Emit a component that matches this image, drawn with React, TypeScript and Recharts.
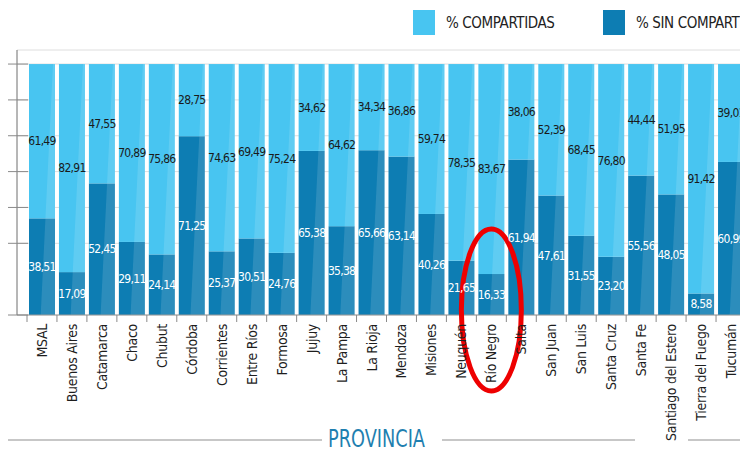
import { BarChart, Bar, XAxis, YAxis, CartesianGrid, LabelList, ReferenceDot } from 'recharts';

const provincias = [
  'MSAL', 'Buenos Aires', 'Catamarca', 'Chaco', 'Chubut', 'Córdoba', 'Corrientes', 'Entre Ríos',
  'Formosa', 'Jujuy', 'La Pampa', 'La Rioja', 'Mendoza', 'Misiones', 'Neuquén', 'Río Negro',
  'Salta', 'San Juan', 'San Luis', 'Santa Cruz', 'Santa Fe', 'Santiago del Estero',
  'Tierra del Fuego', 'Tucumán',
];
const sinCompartir = [
  38.51, 17.09, 52.45, 29.11, 24.14, 71.25, 25.37, 30.51, 24.76, 65.38, 35.38, 65.66,
  63.14, 40.26, 21.65, 16.33, 61.94, 47.61, 31.55, 23.2, 55.56, 48.05, 8.58, 60.99,
];
const compartidas = [
  61.49, 82.91, 47.55, 70.89, 75.86, 28.75, 74.63, 69.49, 75.24, 34.62, 64.62, 34.34,
  36.86, 59.74, 78.35, 83.67, 38.06, 52.39, 68.45, 76.8, 44.44, 51.95, 91.42, 39.01,
];
const yTicks = [0, 28.57, 42.86, 57.14, 71.43, 85.71, 100];
const destacada = 'Río Negro';

const LIGHT = '#48c5f1';
const DARK = '#0d7db3';
const FONT = '"DejaVu Sans Condensed", "Liberation Sans Narrow", "Open Sans", sans-serif';

const W = 760;
const H = 449;
const X_AXIS_H = 30;
const M = { top: 50, right: 14, left: 0, bottom: 134 - X_AXIS_H };
const Y_AXIS_W = 17;
const PAD_LEFT = 10;
const PLOT_BOTTOM = 315;
const PLOT_TOP = M.top;
const BAND = (W - M.left - M.right - Y_AXIS_W - PAD_LEFT) / provincias.length;

const data = provincias.map((p, i) => ({ p, sin: sinCompartir[i], comp: compartidas[i] }));

const fmt = (v: number) => v.toFixed(2).replace('.', ',');

// bar with a faint diagonal sheen on the right side
function SheenBar(props: any) {
  const { x, y, width, height, fill } = props;
  if (!height) return null;
  const sx = (yy: number) => {
    const t = (yy - PLOT_TOP) / (PLOT_BOTTOM - PLOT_TOP);
    return x + width * (0.95 - 0.5 * t);
  };
  const pts = `${sx(y)},${y} ${x + width},${y} ${x + width},${y + height} ${sx(y + height)},${y + height}`;
  return (
    <g>
      <rect x={x} y={y} width={width} height={height} fill={fill} />
      <polygon points={pts} fill="#ffffff" fillOpacity={0.13} />
    </g>
  );
}

function XTick(props: any) {
  const { payload } = props;
  const cx = payload.coordinate;
  return (
    <g>
      <line x1={cx - BAND / 2} x2={cx - BAND / 2} y1={PLOT_BOTTOM} y2={PLOT_BOTTOM + 7} stroke="#8a8a8a" />
      <text
        x={cx}
        y={PLOT_BOTTOM + 9}
        transform={`rotate(-90, ${cx}, ${PLOT_BOTTOM + 9})`}
        textAnchor="end"
        dominantBaseline="central"
        fontSize={14}
        letterSpacing={-0.3}
        fontFamily={FONT}
        fill="#1e1e1e"
      >
        {payload.value}
      </text>
    </g>
  );
}

function YTick(props: any) {
  const { y } = props;
  return <line x1={8} x2={28} y1={y} y2={y} stroke="#8a8a8a" />;
}

function LegendBox() {
  const item = (color: string, label: string, width: number) => (
    <div style={{ display: 'flex', alignItems: 'center', width }}>
      <div style={{ width: 22, height: 25, background: color, marginRight: 11 }} />
      <span style={{ fontFamily: FONT, fontSize: 15, letterSpacing: -0.4, color: '#222', whiteSpace: 'nowrap' }}>{label}</span>
    </div>
  );
  return (
    <div style={{ position: 'absolute', left: 413, top: 10, display: 'flex' }}>
      {item(LIGHT, '% COMPARTIDAS', 190)}
      {item(DARK, '% SIN COMPARTIR', 200)}
    </div>
  );
}

export default function App() {
  return (
    <div style={{ position: 'absolute', left: 0, top: 0, width: 740, height: H, overflow: 'hidden', background: '#fff' }}>
      <BarChart width={W} height={H} data={data} margin={M}>
        <CartesianGrid horizontal vertical={false} stroke="#dedede" />
        <XAxis
          dataKey="p"
          height={X_AXIS_H}
          interval={0}
          padding={{ left: PAD_LEFT, right: 0 }}
          tick={<XTick />}
          tickLine={false}
          axisLine={{ stroke: '#9a9a9a' }}
        />
        <YAxis
          width={Y_AXIS_W}
          domain={[0, 105.6]}
          ticks={yTicks}
          tick={<YTick />}
          tickLine={false}
          axisLine={{ stroke: '#6f6f6f' }}
        />
        <Bar dataKey="sin" stackId="a" fill={DARK} barSize={26} shape={<SheenBar />} isAnimationActive={false}>
          <LabelList dataKey="sin" position="center" formatter={(v: any) => fmt(v)} fill="#ffffff" fontSize={12} letterSpacing={-0.7} fontFamily={FONT} />
        </Bar>
        <Bar dataKey="comp" stackId="a" fill={LIGHT} barSize={26} shape={<SheenBar />} isAnimationActive={false}>
          <LabelList dataKey="comp" position="center" formatter={(v: any) => fmt(v)} fill="#1a1a1a" fontSize={12} letterSpacing={-0.7} fontFamily={FONT} />
        </Bar>
        <ReferenceDot
          x={destacada}
          y={2}
          ifOverflow="visible"
          shape={(p: any) => (
            <ellipse cx={p.cx} cy={p.cy} rx={30} ry={81} fill="none" stroke="#ee0000" strokeWidth={5} />
          )}
        />
      </BarChart>
      <LegendBox />
      <svg width={740} height={H} style={{ position: 'absolute', left: 0, top: 0, pointerEvents: 'none' }}>
        <line x1={8} x2={322} y1={440} y2={440} stroke="#b5b5b5" strokeWidth={1.5} />
        <line x1={442} x2={635} y1={440} y2={440} stroke="#b5b5b5" strokeWidth={1.5} />
        <line x1={688} x2={740} y1={440} y2={440} stroke="#b5b5b5" strokeWidth={1.5} />
        <text x={328} y={447} textLength={97} lengthAdjust="spacingAndGlyphs" fontFamily={FONT} fontSize={25} fill="#1f7fb0">
          PROVINCIA
        </text>
      </svg>
    </div>
  );
}
